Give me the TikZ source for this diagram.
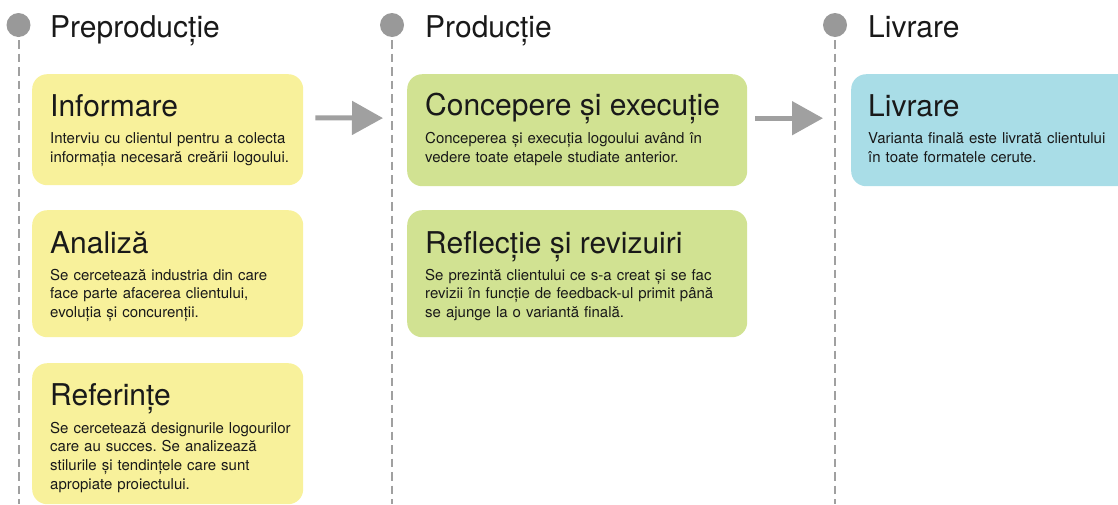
\documentclass[tikz,border=0pt]{standalone}
\usepackage{fontspec}
\setmainfont{TeX Gyre Heros}
\frenchspacing
\usetikzlibrary{arrows.meta}
\definecolor{yellowbox}{RGB}{248,241,155}
\definecolor{greenbox}{RGB}{209,226,146}
\definecolor{bluebox}{RGB}{169,221,231}
\definecolor{dotgray}{RGB}{153,153,153}
\definecolor{linegray}{RGB}{160,160,160}
\definecolor{arrowgray}{RGB}{160,160,160}
\definecolor{ink}{RGB}{25,25,25}
\begin{document}
\begin{tikzpicture}[x=1pt,y=-1pt]
            \tikzstyle{phase dot}=[circle,fill=dotgray,inner sep=0,minimum size=24pt]
            \tikzstyle{phase line}=[draw=linegray,line width=2pt,dash pattern=on 8.5pt off 5pt]
            \tikzstyle{phase title}=[anchor=base west,inner sep=0,text=ink,font=\fontsize{30}{36}\selectfont]
            \tikzstyle{step box}=[anchor=north west,rounded corners=15pt,inner sep=0,minimum width=271pt]
            \tikzstyle{box title}=[anchor=base west,inner sep=0,text=ink,font=\fontsize{30}{36}\selectfont]
            \tikzstyle{box text}=[anchor=base west,inner sep=0,text=ink,text width=320pt,align=left,font=\fontsize{15}{18.7}\selectfont]
            \tikzstyle{flow arrow}=[draw=arrowgray,line width=5pt,-{Triangle[length=31pt,width=33pt]}]

            \useasboundingbox (0,0) rectangle (1118,504);
            \clip (0,0) rectangle (1118,504);

            % phases
            \node[phase dot] (pre dot) at (18.5,25) {};
            \node[phase dot] (prod dot) at (392,25) {};
            \node[phase dot] (liv dot) at (835,25) {};
            \coordinate (pre end) at (18.5,504);
            \coordinate (prod end) at (392,504);
            \coordinate (liv end) at (835,504);
            \draw[phase line] ([yshift=-3pt]pre dot.south) -- (pre end);
            \draw[phase line] ([yshift=-3pt]prod dot.south) -- (prod end);
            \draw[phase line] ([yshift=-3pt]liv dot.south) -- (liv end);
            \node[phase title] (pre title) at (50,37) {Preproducție};
            \node[phase title] (prod title) at (425,37) {Producție};
            \node[phase title] (liv title) at (868,37) {Livrare};

            % boxes
            \node[step box,fill=yellowbox,minimum height=111pt] (info) at (32,74) {};
            \node[step box,fill=yellowbox,minimum height=127pt] (anal) at (32,210) {};
            \node[step box,fill=yellowbox,minimum height=141pt] (ref) at (32,363) {};
            \node[step box,fill=greenbox,minimum width=340pt,minimum height=112pt] (concep) at (407,74) {};
            \node[step box,fill=greenbox,minimum width=340pt,minimum height=127pt] (reflect) at (407,210) {};
            \node[step box,fill=bluebox,minimum width=300pt,minimum height=112pt] (deliver) at (851,74) {};

            \node[box title] (info title) at ([shift={(18,42)}]info.north west) {Informare};
            \node[box text] (info text) at ([shift={(18,69.5)}]info.north west)
            {Interviu cu clientul pentru a colecta\\informația necesară creării logoului.};
            \node[box title] (anal title) at ([shift={(18,43)}]anal.north west) {Analiză};
            \node[box text] (anal text) at ([shift={(18,70)}]anal.north west)
            {Se cercetează industria din care\\face parte afacerea clientului,\\evoluția și concurenții.};
            \node[box title] (ref title) at ([shift={(18,42)}]ref.north west) {Referințe};
            \node[box text] (ref text) at ([shift={(18,70)}]ref.north west)
            {Se cercetează designurile logourilor\\care au succes. Se analizează\\stilurile și tendințele care sunt\\apropiate proiectului.};
            \node[box title] (concep title) at ([shift={(18,41)}]concep.north west) {Concepere și execuție};
            \node[box text] (concep text) at ([shift={(18,69.5)}]concep.north west)
            {Conceperea și execuția logoului având în\\vedere toate etapele studiate anterior.};
            \node[box title] (reflect title) at ([shift={(18,43)}]reflect.north west) {Reflecție și revizuiri};
            \node[box text] (reflect text) at ([shift={(18,70)}]reflect.north west)
            {Se prezintă clientului ce s-a creat și se fac\\revizii în funcție de feedback-ul primit până\\se ajunge la o variantă finală.};
            \node[box title] (deliver title) at ([shift={(17,42)}]deliver.north west) {Livrare};
            \node[box text] (deliver text) at ([shift={(17,69.5)}]deliver.north west)
            {Varianta finală este livrată clientului\\în toate formatele cerute.};

            % flow
            \draw[flow arrow,shorten <=12pt,shorten >=24pt] ([yshift=12pt]info.east) -- ([yshift=12pt]concep.west);
            \draw[flow arrow,shorten <=8pt,shorten >=28pt] ([yshift=12pt]concep.east) -- ([yshift=12pt]deliver.west);
\end{tikzpicture}
\end{document}
